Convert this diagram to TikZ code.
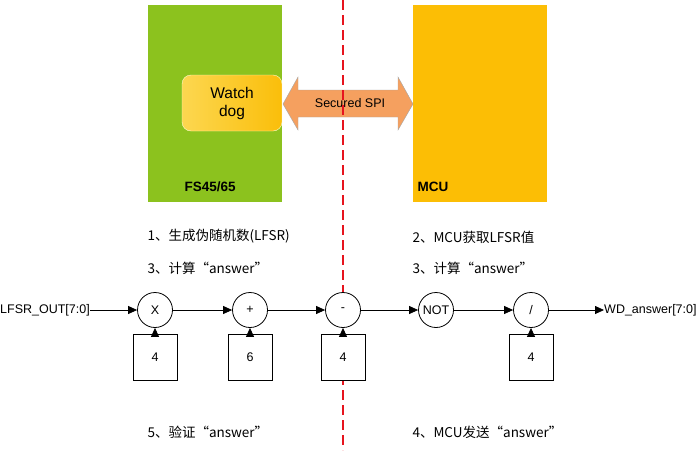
\documentclass[tikz,border=0pt]{standalone}
\usepackage{fontspec}
\setmainfont{Liberation Sans}
\newfontfamily\cjk{Noto Sans CJK SC}
\usetikzlibrary{arrows.meta}
\definecolor{dashred}{RGB}{230,20,30}
\definecolor{spicol}{RGB}{245,160,95}
\begin{document}
\begin{tikzpicture}[x=1pt,y=-1pt,font=\fontsize{12.5}{15}\selectfont,
  op/.style={circle,draw,thick,fill=white,minimum size=35pt,inner sep=0pt},
  box/.style={draw,thick,fill=white,minimum width=44pt,minimum height=46pt},
  lab/.style={anchor=west,font=\cjk\fontsize{13.5}{15}\selectfont},
  arr/.style={thick,-{Triangle[length=9pt,width=8pt]}}]
\useasboundingbox (0,0) rectangle (700,450);
\fill[white] (0,0) rectangle (700,450);
\node[fill={rgb,255:red,140;green,194;blue,30},minimum width=134pt,minimum height=197pt,inner sep=0pt] (fs) at (215,103.5) {};
\node[fill={rgb,255:red,252;green,190;blue,5},minimum width=134pt,minimum height=197pt,inner sep=0pt] (mcu) at (480,103.5) {};
\node[font=\bfseries\fontsize{13.5}{15}\selectfont,anchor=west] (fsl) at (181,187) {FS45/65};
\node[font=\bfseries\fontsize{13.5}{15}\selectfont,anchor=west] (mcul) at (414,187) {MCU};
\node[draw=white!80!yellow,left color={rgb,255:red,252;green,215;blue,80},right color={rgb,255:red,250;green,190;blue,10},rounded corners=9pt,minimum width=100pt,minimum height=56pt,align=center,font=\fontsize{15.5}{18}\selectfont] (wd) at (232,103) {Watch\\dog};
\filldraw[fill=spicol,draw=gray!70]
  (283,104) -- (298,77) -- (298,90) -- (398,90) -- (398,77) -- (413,104)
  -- (398,130) -- (398,117) -- (298,117) -- (298,130) -- cycle;
\node[font=\fontsize{12.5}{14}\selectfont] (spi) at (350,103.5) {Secured SPI};
\coordinate (d1) at (343,0);
\coordinate (d2) at (343,450);
\draw[dashred,line width=1.2pt,dash pattern=on 10pt off 5pt] (d1) -- (d2);
\node[lab] (t1) at (144,236) {1、生成伪随机数(LFSR)};
\node[lab] (t2) at (409,237) {2、MCU获取LFSR值};
\node[lab] (t3) at (144,268) {3、计算“answer”};
\node[lab] (t4) at (409,268) {3、计算“answer”};
\node[lab] (t5) at (144,432) {5、验证“answer”};
\node[lab] (t6) at (409,432) {4、MCU发送“answer”};
\node[op] (c1) at (155,310) {X};
\node[op] (c2) at (250,310) {+};
\node[op] (c3) at (343,310) {-};
\node[op] (c4) at (436,310) {NOT};
\node[op] (c5) at (531,310) {/};
\node[box] (b1) at (155,357) {4};
\node[box] (b2) at (250,357) {6};
\node[box] (b3) at (343,357) {4};
\node[box] (b5) at (531,357) {4};
\node[anchor=west,inner sep=0pt] (in) at (0,310) {LFSR\_OUT[7:0]};
\node[anchor=west,inner sep=0pt] (out) at (604,310) {WD\_answer[7:0]};
\draw[arr] (in.east) -- (c1);
\draw[arr] (c1) -- (c2);
\draw[arr] (c2) -- (c3);
\draw[arr] (c3) -- (c4);
\draw[arr] (c4) -- (c5);
\draw[arr] (c5) -- (out.west);
\draw[arr] (b1) -- (c1);
\draw[arr] (b2) -- (c2);
\draw[arr] (b3) -- (c3);
\draw[arr] (b5) -- (c5);
\end{tikzpicture}
\end{document}
